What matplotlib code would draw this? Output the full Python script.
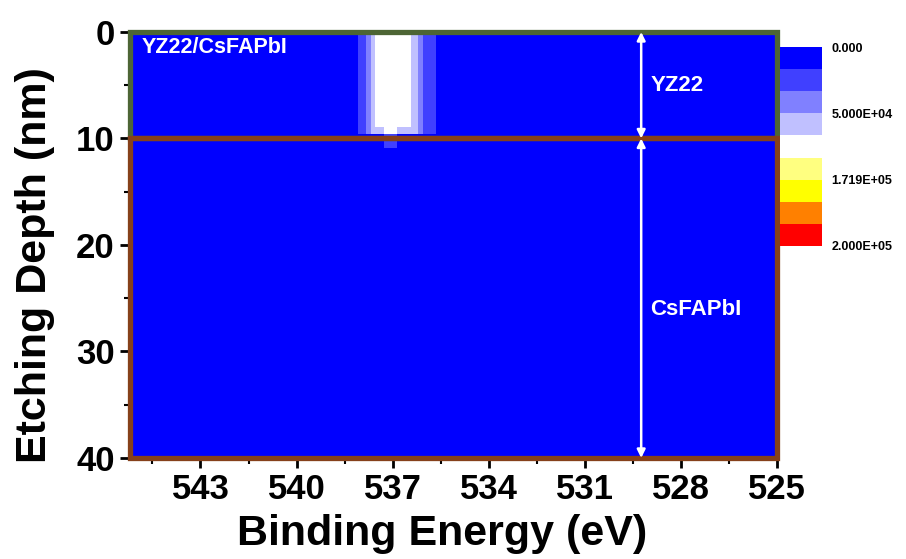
import matplotlib
matplotlib.use("Agg")
import matplotlib.pyplot as plt
import numpy as np
from matplotlib.colors import ListedColormap, BoundaryNorm
from matplotlib.patches import Rectangle

plt.rcParams['font.family'] = ['Liberation Sans', 'DejaVu Sans']
plt.rcParams['font.weight'] = 'bold'

# ---- data ----
energy_edges = [545.2, 538.08, 537.83, 537.67, 537.55, 537.27, 536.85,
                536.43, 536.21, 536.06, 535.65, 525.0]
depth_edges = [0.0, 8.9, 9.6, 10.3, 10.9, 40.0]
intensity = [
    [0, 25000, 42000, 70000, 110000, 115000, 110000, 70000, 42000, 25000, 0],
    [0, 25000, 42000, 70000, 70000, 100000, 70000, 70000, 42000, 25000, 0],
    [0, 0, 0, 0, 0, 25000, 0, 0, 0, 0, 0],
    [0, 0, 0, 0, 0, 25000, 0, 0, 0, 0, 0],
    [0, 0, 0, 0, 0, 0, 0, 0, 0, 0, 0],
]
level_bounds = [0, 16667, 33333, 50000, 90000, 130000, 171900, 181300, 190600, 200000]
level_colors = ['#0000FF', '#4040FF', '#8080FF', '#C0C0FF', '#FFFFFF',
                '#FFFF80', '#FFFF00', '#FF8000', '#FF0000']
cbar_ticks = [0, 50000, 171900, 200000]
cbar_labels = ['0.000', '5.000E+04', '1.719E+05', '2.000E+05']
x_ticks = [543, 540, 537, 534, 531, 528, 525]
y_ticks = [0, 10, 20, 30, 40]
layer_names = ['YZ22', 'CsFAPbI']
layer_bounds = [0, 10, 40]
sample_label = 'YZ22/CsFAPbI'

# ---- figure ----
fig = plt.figure(figsize=(9.06, 5.59), dpi=100)
ax = fig.add_axes([0.1435, 0.1807, 0.8576 - 0.1435, 0.9428 - 0.1807])

cmap = ListedColormap(level_colors)
norm = BoundaryNorm(level_bounds, cmap.N)
mesh = ax.pcolormesh(energy_edges, depth_edges, np.array(intensity, float),
                     cmap=cmap, norm=norm, shading='flat')

ax.set_xlim(545.2, 525.0)
ax.set_ylim(40, 0)
for s in ax.spines.values():
    s.set_visible(False)

ax.set_xticks(x_ticks)
ax.set_xticks(np.arange(544.5, 525, -1.5), minor=True)
ax.set_yticks(y_ticks)
ax.set_yticks([5, 15, 25, 35], minor=True)
ax.tick_params(axis='both', which='major', length=7, width=2, labelsize=25, direction='out')
ax.tick_params(axis='both', which='minor', length=4, width=1.5, direction='out')
ax.tick_params(axis='x', pad=3.5)
ax.tick_params(axis='y', pad=4)
for lab in ax.get_xticklabels() + ax.get_yticklabels():
    lab.set_fontweight('bold')

ax.set_xlabel('Binding Energy (eV)', fontsize=31, fontweight='bold', va='top')
ax.xaxis.set_label_coords(0.482, -0.132)
ax.set_ylabel('Etching Depth (nm)', fontsize=31, fontweight='bold', va='center')
ax.yaxis.set_label_coords(-0.147, 0.453)

# layer frames
x0, x1 = 545.2, 525.0
ax.add_patch(Rectangle((x0, layer_bounds[0]), x1 - x0, layer_bounds[1] - layer_bounds[0],
                       fill=False, edgecolor='#4d6535', lw=3.8, clip_on=False, zorder=5))
ax.add_patch(Rectangle((x0, layer_bounds[1]), x1 - x0, layer_bounds[2] - layer_bounds[1],
                       fill=False, edgecolor='#86401a', lw=3.8, clip_on=False, zorder=6))

# arrows
ax_x = 529.24
for a, b in [(layer_bounds[0], layer_bounds[1]), (layer_bounds[1], layer_bounds[2])]:
    ax.annotate('', xy=(ax_x, a), xytext=(ax_x, b),
                arrowprops=dict(arrowstyle='<|-|>', color='white', lw=1.8,
                                mutation_scale=12, shrinkA=0, shrinkB=0), zorder=7)

ax.text(528.95, 5.0, layer_names[0], color='white', fontsize=16, fontweight='bold',
        va='center', ha='left', zorder=8)
ax.text(528.95, 26.1, layer_names[1], color='white', fontsize=16, fontweight='bold',
        va='center', ha='left', zorder=8)
ax.text(544.85, 1.5, sample_label, color='white', fontsize=15.5, fontweight='bold',
        va='center', ha='left', zorder=8)

# colorbar
cax = fig.add_axes([780 / 906, 1 - 246 / 559, 42 / 906, 199 / 559])
cb = fig.colorbar(mesh, cax=cax, boundaries=level_bounds, spacing='uniform')
cb.outline.set_visible(False)
cax.invert_yaxis()
cb.set_ticks(cbar_ticks)
cb.set_ticklabels(cbar_labels)
cax.minorticks_off()
cax.tick_params(which='both', length=0, labelsize=9, pad=7)
for lab in cax.get_yticklabels():
    lab.set_fontweight('bold')

fig.savefig('out.png', dpi=100)
